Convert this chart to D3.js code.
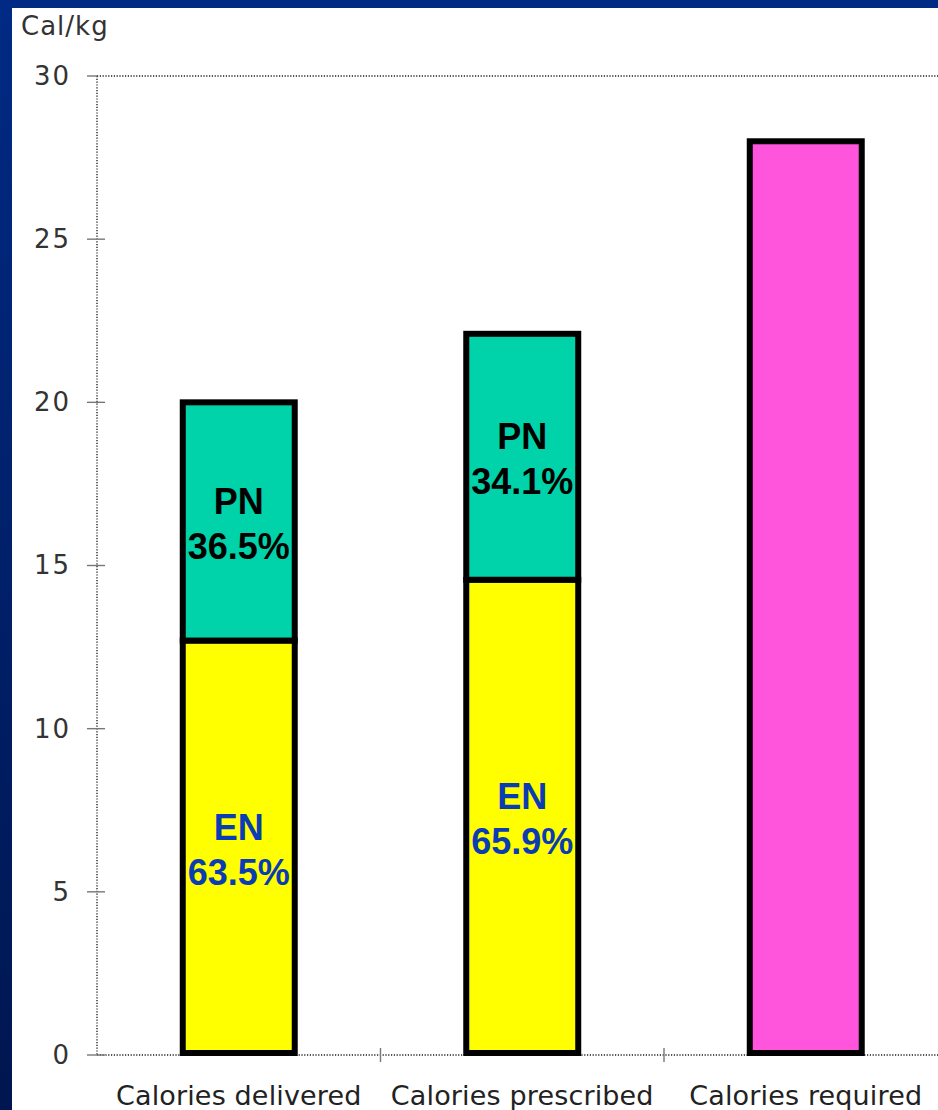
<!DOCTYPE html>
<html>
<head>
<meta charset="utf-8">
<script src="https://cdn.jsdelivr.net/npm/d3@7"></script>
<style>
  html, body { margin: 0; padding: 0; background: #00257a; }
  svg { display: block; }
</style>
</head>
<body>
<script>
// Caloric intake per kg: delivered vs prescribed vs required
const categories = ["Calories delivered", "Calories prescribed", "Calories required"];
const totals = [20, 22.1, 28];          // Cal/kg per column
const enShare = [63.5, 65.9, null];     // % of total from enteral nutrition
const pnShare = [36.5, 34.1, null];     // % of total from parenteral nutrition
const yTicks = [0, 5, 10, 15, 20, 25, 30];
const yLabel = "Cal/kg";

const W = 938, H = 1110;
const svg = d3.select("body").append("svg").attr("width", W).attr("height", H);

// slide-style backdrop: blue frame with a white panel
const defs = svg.append("defs");
const grad = defs.append("linearGradient").attr("id", "bg").attr("x1", 0).attr("y1", 0).attr("x2", 0).attr("y2", 1);
grad.append("stop").attr("offset", "0%").attr("stop-color", "#002a84");
grad.append("stop").attr("offset", "100%").attr("stop-color", "#001650");
svg.append("rect").attr("width", W).attr("height", H).attr("fill", "url(#bg)");
svg.append("rect").attr("x", 12).attr("y", 8).attr("width", W - 12).attr("height", H - 8).attr("fill", "#ffffff");

const plot = { left: 97, top: 76, bottom: 1055, right: 947.5 };

const y = d3.scaleLinear().domain([0, 30]).range([plot.bottom, plot.top]);
const x = d3.scaleBand().domain(categories).range([plot.left, plot.right]).padding(0);
const barW = x.bandwidth() * 0.395;

const axisColor = "#555";
const labelFont = "DejaVu Sans, Verdana, sans-serif";
const g = svg.append("g");

// dotted frame lines
const dotted = (x1, y1, x2, y2) => g.append("line")
  .attr("x1", x1).attr("y1", y1).attr("x2", x2).attr("y2", y2)
  .attr("stroke", axisColor).attr("stroke-width", 1.8).attr("stroke-dasharray", "1.2,1.6");
dotted(plot.left, y(30), W, y(30));
dotted(plot.left, y(0), W, y(0));
dotted(plot.left, y(30), plot.left, y(0));

// y ticks + labels
const yt = g.selectAll(".yt").data(yTicks).join("g").attr("class", "yt");
yt.append("line")
  .attr("x1", plot.left - 10).attr("x2", d => d === 30 ? plot.left : plot.left + 8)
  .attr("y1", d => y(d)).attr("y2", d => y(d))
  .attr("stroke", "#777").attr("stroke-width", 1.4);
yt.append("text")
  .attr("x", 71).attr("y", d => y(d)).attr("dy", "0.34em")
  .attr("text-anchor", "end")
  .attr("font-family", labelFont).attr("font-size", 26)
  .attr("letter-spacing", 2)
  .attr("fill", "#333")
  .text(d => d);

// x ticks at band boundaries
const xBounds = categories.slice(1).map(c => x(c));
g.selectAll(".xt").data(xBounds).join("line").attr("class", "xt")
  .attr("x1", d => d).attr("x2", d => d)
  .attr("y1", y(0) - 7).attr("y2", y(0) + 7)
  .attr("stroke", "#777").attr("stroke-width", 1.4);

// axis title
g.append("text").attr("x", 21).attr("y", 35)
  .attr("font-family", labelFont).attr("font-size", 26)
  .attr("letter-spacing", 1)
  .attr("fill", "#333").text(yLabel);

// category labels
g.selectAll(".cat").data(categories).join("text").attr("class", "cat")
  .attr("x", d => x(d) + x.bandwidth() / 2).attr("y", 1105)
  .attr("text-anchor", "middle")
  .attr("font-family", labelFont).attr("font-size", 27)
  .attr("letter-spacing", 0.15)
  .attr("fill", "#222").text(d => d);

// build stacked segments
const segments = [];
categories.forEach((c, i) => {
  if (enShare[i] != null) {
    const en = totals[i] * enShare[i] / 100;
    segments.push({ cat: c, y0: 0, y1: en, fill: "#ffff00", name: "EN", pct: enShare[i], color: "#0a3cb4" });
    segments.push({ cat: c, y0: en, y1: totals[i], fill: "#00d2aa", name: "PN", pct: pnShare[i], color: "#000000" });
  } else {
    segments.push({ cat: c, y0: 0, y1: totals[i], fill: "#ff55dd", name: null });
  }
});

const bars = svg.append("g");
bars.selectAll("rect").data(segments).join("rect")
  .attr("x", d => x(d.cat) + x.bandwidth() / 2 - barW / 2)
  .attr("width", barW)
  .attr("y", d => y(d.y1))
  .attr("height", d => y(d.y0) - y(d.y1) - (d.y0 === 0 ? 2 : 0))
  .attr("fill", d => d.fill)
  .attr("stroke", "#000").attr("stroke-width", 6);

// segment labels
const lbl = bars.selectAll(".lbl").data(segments.filter(d => d.name)).join("text").attr("class", "lbl")
  .attr("x", d => x(d.cat) + x.bandwidth() / 2)
  .attr("y", d => (y(d.y0) + y(d.y1)) / 2)
  .attr("text-anchor", "middle")
  .attr("font-family", "Liberation Sans, Arial, sans-serif")
  .attr("font-weight", "bold").attr("font-size", 36)
  .attr("fill", d => d.color);
lbl.append("tspan").attr("x", d => x(d.cat) + x.bandwidth() / 2).attr("dy", "-0.22em").text(d => d.name);
lbl.append("tspan").attr("x", d => x(d.cat) + x.bandwidth() / 2).attr("dy", "1.25em").text(d => d.pct.toFixed(1) + "%");
</script>
</body>
</html>
